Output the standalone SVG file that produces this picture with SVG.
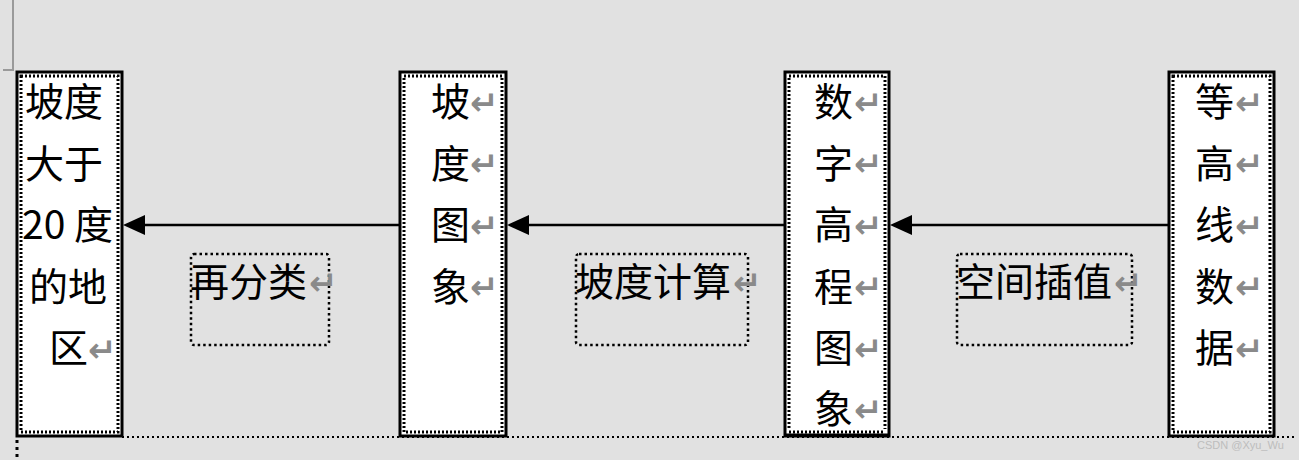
<svg xmlns="http://www.w3.org/2000/svg" width="1299" height="460" viewBox="0 0 1299 460">
<defs>
<style>
.bg{fill:#e1e1e1}
.outer{fill:#fff;stroke:#000;stroke-width:3}
.inner{fill:none;stroke:#000;stroke-width:3;stroke-dasharray:2 2}
.lbl{fill:none;stroke:#000;stroke-width:2.5;stroke-dasharray:2.5 3}
.conn{stroke:#000;stroke-width:2.5;fill:none}
.head{fill:#000}
.t{font-family:"Noto Sans CJK SC","Liberation Sans",sans-serif;font-size:39px;fill:#000}
.r{font-family:"DejaVu Sans",sans-serif;font-size:34px;font-weight:bold;fill:#8a8a8a}
.wm{font-family:"Liberation Sans",sans-serif;font-size:11px;fill:#bdbdbd}
</style>
</defs>
<rect class="bg" x="0" y="0" width="1299" height="460"/>
<path d="M13,0 V70 H3" stroke="#9a9a9a" stroke-width="2" fill="none"/>
<line x1="122" y1="437" x2="1296" y2="437" stroke="#000" stroke-width="2" stroke-dasharray="2 3"/>
<line x1="17" y1="440" x2="17" y2="460" stroke="#000" stroke-width="3" stroke-dasharray="3 4"/>

<g id="connectors">
<line class="conn" x1="1169" y1="225" x2="911" y2="225"/>
<path class="head" d="M890,225 L912,215 L912,235 Z"/>
<line class="conn" x1="785" y1="225" x2="528" y2="225"/>
<path class="head" d="M507,225 L529,215 L529,235 Z"/>
<line class="conn" x1="400" y1="225" x2="144" y2="225"/>
<path class="head" d="M123,225 L145,215 L145,235 Z"/>
</g>

<g id="node1">
<rect class="outer" x="17" y="72" width="105" height="364"/>
<rect class="inner" x="21" y="76" width="97" height="356"/>
<text class="t" x="25" y="116">坡度</text>
<text class="t" x="25" y="178">大于</text>
<text class="t" x="22" y="239">20 度</text>
<text class="t" x="29" y="301">的地</text>
<text class="t" x="49" y="362">区</text>
<text class="r" x="88" y="362">↵</text>
</g>

<g id="node2">
<rect class="outer" x="400" y="72" width="106" height="364"/>
<rect class="inner" x="404" y="76" width="98" height="356"/>
<text class="t" x="431" y="116">坡</text><text class="r" x="470" y="115">↵</text>
<text class="t" x="431" y="178">度</text><text class="r" x="470" y="176">↵</text>
<text class="t" x="431" y="239">图</text><text class="r" x="470" y="238">↵</text>
<text class="t" x="431" y="301">象</text><text class="r" x="470" y="299">↵</text>
</g>

<g id="node3">
<rect class="outer" x="785" y="72" width="104" height="364"/>
<rect class="inner" x="789" y="76" width="96" height="356"/>
<text class="t" x="814" y="116">数</text><text class="r" x="854" y="115">↵</text>
<text class="t" x="814" y="178">字</text><text class="r" x="854" y="176">↵</text>
<text class="t" x="814" y="239">高</text><text class="r" x="854" y="238">↵</text>
<text class="t" x="814" y="301">程</text><text class="r" x="854" y="299">↵</text>
<text class="t" x="814" y="362">图</text><text class="r" x="854" y="361">↵</text>
<text class="t" x="814" y="423">象</text><text class="r" x="854" y="422">↵</text>
<rect x="787" y="429" width="100" height="7" fill="#fff"/>
<line x1="785" y1="435" x2="889" y2="435" stroke="#000" stroke-width="3"/>
<line x1="789" y1="432" x2="885" y2="432" stroke="#000" stroke-width="3" stroke-dasharray="2 2"/>
</g>

<g id="node4">
<rect class="outer" x="1169" y="72" width="105" height="364"/>
<rect class="inner" x="1173" y="76" width="97" height="356"/>
<text class="t" x="1195" y="116">等</text><text class="r" x="1235" y="115">↵</text>
<text class="t" x="1195" y="178">高</text><text class="r" x="1235" y="176">↵</text>
<text class="t" x="1195" y="239">线</text><text class="r" x="1235" y="238">↵</text>
<text class="t" x="1195" y="301">数</text><text class="r" x="1235" y="299">↵</text>
<text class="t" x="1195" y="362">据</text><text class="r" x="1235" y="361">↵</text>
</g>

<g id="label1">
<rect class="lbl" x="191" y="254" width="138" height="91" rx="3"/>
<text class="t" x="190" y="296">再分类</text><text class="r" x="309" y="295">↵</text>
</g>
<g id="label2">
<rect class="lbl" x="576" y="254" width="172" height="91" rx="3"/>
<text class="t" x="575" y="296">坡度计算</text><text class="r" x="733" y="295">↵</text>
</g>
<g id="label3">
<rect class="lbl" x="957" y="254" width="175" height="91" rx="3"/>
<text class="t" x="956" y="296">空间插值</text><text class="r" x="1114" y="295">↵</text>
</g>

<text class="wm" x="1197" y="449">CSDN @Xyu_Wu</text>
</svg>
